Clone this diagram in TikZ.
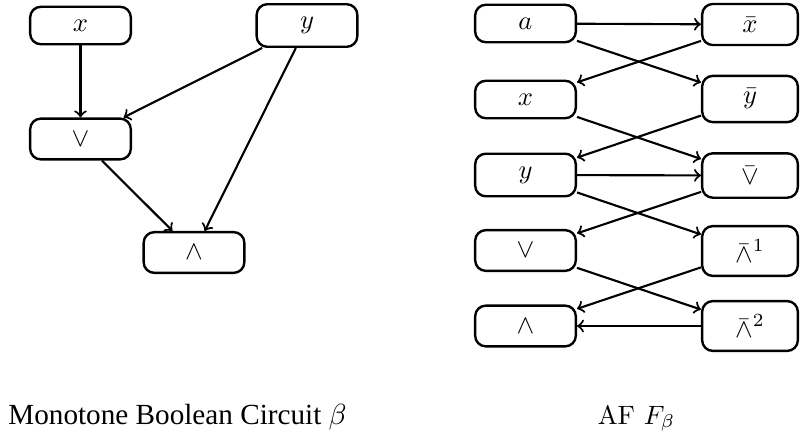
\documentclass[tikz,border=0pt]{standalone}
\usepackage{fontspec}
\newfontfamily\timesfont{Liberation Serif}
\begin{document}
\begin{tikzpicture}[x=0.013245cm, y=-0.013245cm,
  box/.style={draw, line width=0.9pt, rounded corners=4pt, inner sep=4.9pt, minimum width=1.333cm},
  rbox/.style={box, minimum width=1.267cm},
  edge/.style={thick, ->}]
\useasboundingbox (0,0) rectangle (800,437);
% left: monotone Boolean circuit
\node[box] (lx) at (80.5,25.5) {$x$};
\node[box] (ly) at (307,25.5) {$y$};
\node[box] (lor) at (80.5,139) {$\vee$};
\node[box] (land) at (194,252.5) {$\wedge$};
\draw[edge] (lx) -- (lor);
\draw[edge] (ly) -- (lor);
\draw[edge] (lor) -- (land);
\draw[edge] (ly) -- (land);
% right: AF
\node[box] (a) at (525.5,23.5) {$a$};
\node[box] (rx) at (525.5,99.5) {$x$};
\node[box] (ry) at (525.5,175) {$y$};
\node[box] (ror) at (525.5,250.5) {$\vee$};
\node[box] (rand) at (525.5,326) {$\wedge$};
\node[rbox] (bx) at (750,24.5) {$\bar{x}$};
\node[rbox] (by) at (750,99) {$\bar{y}$};
\node[rbox] (bor) at (750,175.5) {$\bar{\vee}$};
\node[rbox] (band1) at (750,251) {$\bar{\wedge}^1$};
\node[rbox] (band2) at (750,326) {$\bar{\wedge}^2$};
\draw[edge] (a) -- (bx);
\draw[edge] (a) -- (by);
\draw[edge] (bx) -- (rx);
\draw[edge] (rx) -- (bor);
\draw[edge] (by) -- (ry);
\draw[edge] (ry) -- (bor);
\draw[edge] (ry) -- (band1);
\draw[edge] (bor) -- (ror);
\draw[edge] (ror) -- (band2);
\draw[edge] (band1) -- (rand);
\draw[edge] (band2) -- (rand);
% captions
\node[anchor=base, inner sep=0pt] (capl) at (177.5,424) {\timesfont\fontsize{11}{13}\selectfont Monotone Boolean Circuit $\beta$};
\node[anchor=base, inner sep=0pt] (capr) at (636.5,424) {AF $F_\beta$};
\end{tikzpicture}
\end{document}
